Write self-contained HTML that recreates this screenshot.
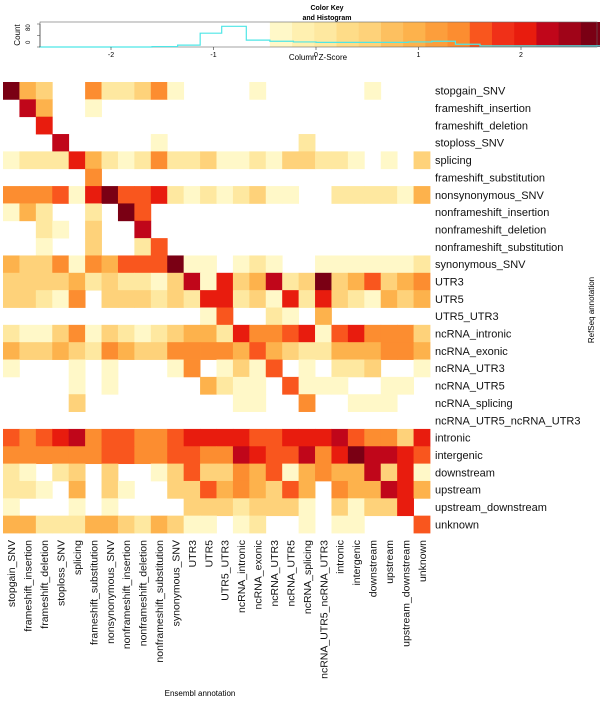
<!DOCTYPE html>
<html><head><meta charset="utf-8"><style>
body{margin:0;background:#fff;width:600px;height:703px;overflow:hidden}
svg{display:block;font-family:"Liberation Sans",Arial,sans-serif}
</style></head><body>
<svg id="c" width="600" height="703" viewBox="0 0 600 703" xmlns="http://www.w3.org/2000/svg"></svg>
<script>
const rowLabels=["stopgain_SNV","frameshift_insertion","frameshift_deletion","stoploss_SNV","splicing","frameshift_substitution","nonsynonymous_SNV","nonframeshift_insertion","nonframeshift_deletion","nonframeshift_substitution","synonymous_SNV","UTR3","UTR5","UTR5_UTR3","ncRNA_intronic","ncRNA_exonic","ncRNA_UTR3","ncRNA_UTR5","ncRNA_splicing","ncRNA_UTR5_ncRNA_UTR3","intronic","intergenic","downstream","upstream","upstream_downstream","unknown"];
const colLabels=rowLabels.slice();
const levels=[
[9,4,3,0,0,5,2,2,3,5,1,0,0,0,0,1,0,0,0,0,0,0,1,0,0,0],
[0,8,4,0,0,1,0,0,0,0,0,0,0,0,0,0,0,0,0,0,0,0,0,0,0,0],
[0,0,7,0,0,0,0,0,0,0,0,0,0,0,0,0,0,0,0,0,0,0,0,0,0,0],
[0,0,0,8,0,0,0,0,0,1,0,0,0,0,0,0,0,0,2,0,0,0,0,0,0,0],
[1,2,2,2,7,4,2,1,2,5,2,2,3,1,1,2,1,3,3,2,2,1,0,1,0,3],
[0,0,0,0,0,5,0,0,0,0,0,0,0,0,0,0,0,0,0,0,0,0,0,0,0,0],
[5,5,5,6,1,7,9,6,6,7,2,1,2,1,2,3,1,1,0,0,2,2,2,2,1,4],
[1,4,2,0,0,2,0,9,6,0,0,0,0,0,0,0,0,0,0,0,0,0,0,0,0,0],
[0,0,2,1,0,3,0,0,8,0,0,0,0,0,0,0,0,0,0,0,0,0,0,0,0,0],
[0,0,1,0,0,3,0,0,2,6,0,0,0,0,0,0,0,0,0,0,0,0,0,0,0,0],
[4,3,3,5,1,5,4,6,6,6,9,1,1,0,1,2,1,0,0,1,1,1,1,1,1,2],
[3,3,3,3,4,2,3,2,2,1,3,8,1,7,3,4,8,2,3,9,3,4,6,3,4,5],
[3,3,2,1,5,0,3,3,3,2,3,2,7,7,2,3,1,7,2,7,3,2,1,4,3,4],
[0,0,0,0,0,0,0,0,0,0,0,0,1,6,0,0,2,1,0,4,0,0,0,0,0,0],
[2,1,1,3,5,1,3,2,1,2,3,4,4,2,7,5,5,6,7,1,6,7,5,5,5,3],
[4,3,3,4,3,2,5,4,3,3,5,5,5,5,4,6,4,3,2,2,4,4,4,5,5,4],
[1,0,0,0,1,0,1,0,0,0,1,5,0,1,3,1,6,0,1,0,2,2,3,0,0,1],
[0,0,0,0,1,0,1,0,0,0,0,0,4,2,1,1,0,6,1,1,1,0,0,1,1,0],
[0,0,0,0,3,0,0,0,0,0,0,0,0,0,1,1,0,0,5,0,0,1,1,1,0,0],
[0,0,0,0,0,0,0,0,0,0,0,0,0,0,0,0,0,0,0,0,0,0,0,0,0,0],
[6,5,6,7,8,5,6,6,5,5,6,7,7,7,7,6,6,7,7,7,8,6,5,5,3,7],
[5,5,5,5,5,5,6,6,5,5,6,6,5,5,8,7,6,6,8,5,7,9,8,8,7,6],
[2,1,0,2,3,0,3,0,0,1,3,6,3,3,5,4,6,1,4,5,4,4,8,3,7,1],
[2,2,1,0,4,0,3,1,0,0,3,3,6,4,5,4,3,6,4,0,5,4,4,8,7,4],
[1,0,0,0,1,0,1,0,0,0,0,3,3,3,2,3,3,3,1,0,3,1,3,3,7,0],
[4,4,2,2,2,4,4,3,2,4,3,1,1,0,1,2,0,0,1,0,1,1,0,0,0,6]];
const keyTicks=[-2,-1,0,1,2];
const histX=[-2.7,-1.6,-1.35,-1.13,-0.92,-0.68,-0.45,-0.22,0,0.23,0.45,0.68,0.9,1.13,1.36,1.6,2.8];
const histY=[0,2,8,60,90,30,25,22,20,20,20,20,22,25,12,5,5];
const pal=["#FFFFFF","#FFF8C8","#FEE8A0","#FED27A","#FDB24C","#FC8D30","#F9561E","#E81C0E","#C0061A","#7A0014"];
const keyCols=["#FFF8C8","#FFF0B0","#FEE8A0","#FEDC88","#FED27A","#FDC060","#FDB24C","#FC9E3C","#FC8D30","#F9561E","#F03018","#E81C0E","#C0061A","#A00418","#7A0014"];
const NS="http://www.w3.org/2000/svg",svg=document.getElementById('c');
function mk(t,a,p){const e=document.createElementNS(NS,t);for(const k in a)e.setAttribute(k,a[k]);(p||svg).appendChild(e);return e;}
const gx0=3,gy0=82,cw=(430-3)/26,rh=(533-82)/26;
const xs=i=>gx0+i*cw, ys=j=>gy0+j*rh;
const g=mk('g',{});


levels.forEach((row,j)=>row.forEach((v,i)=>{if(!v)return;
 const r=mk('rect',{x:xs(i),y:ys(j),width:cw+0.4,height:rh+0.4,fill:pal[v]},g);
 
 }));
rowLabels.forEach((l,j)=>{const t=mk('text',{x:435,y:ys(j)+rh/2+4,'font-size':11,fill:'#111'});t.textContent=l;
 
 });
colLabels.forEach((l,i)=>{const x=xs(i)+cw/2+4,y=540;const t=mk('text',{x:x,y:y,'font-size':10.5,fill:'#111','text-anchor':'end',transform:`rotate(-90 ${x} ${y})`});t.textContent=l;
 
 });
let t=mk('text',{x:200,y:696,'font-size':8,'text-anchor':'middle'});t.textContent='Ensembl annotation';


t=mk('text',{x:594,y:310,'font-size':8,'text-anchor':'middle',transform:'rotate(-90 594 310)'});t.textContent='RefSeq annotation';


const kx=z=>316+z*102.5, ky0=22, ky1=47;
const kg=mk('g',{});


keyCols.forEach((c,k)=>{mk('rect',{x:kx(-0.45+k*0.2167),y:ky0,width:0.2167*102.5+0.5,height:ky1-ky0,fill:c},kg);});
mk('rect',{x:40,y:ky0,width:557,height:ky1-ky0,fill:'none',stroke:'#666','stroke-width':0.6},kg);
const hy=v=>ky1-v/100*(ky1-ky0-2);
let d='M'+kx(histX[0])+' '+hy(histY[0]);
histY.forEach((v,k)=>{if(k<histX.length-1){d+=` L${kx(histX[k])} ${hy(v)} L${kx(histX[k+1])} ${hy(v)}`;}});
const hp=mk('path',{d:d,fill:'none',stroke:'#4ee6e6','stroke-width':1.2},kg);


keyTicks.forEach(v=>{mk('line',{x1:kx(v),x2:kx(v),y1:ky1,y2:ky1+3,stroke:'#333','stroke-width':0.6},kg);
 const tt=mk('text',{x:kx(v),y:ky1+10,'font-size':7,'text-anchor':'middle'},kg);tt.textContent=v;
 
 });
mk('line',{x1:40,x2:40,y1:ky1,y2:ky0+2,stroke:'#333','stroke-width':0.6},kg);
[0,50,100].forEach(v=>{mk('line',{x1:37,x2:40,y1:hy(v),y2:hy(v),stroke:'#333','stroke-width':0.5},kg);});
t=mk('text',{x:30,y:44,'font-size':6,transform:'rotate(-90 30 44)'},kg);t.textContent='0';
t=mk('text',{x:30,y:31,'font-size':6,transform:'rotate(-90 30 31)'},kg);t.textContent='80';
t=mk('text',{x:20,y:35,'font-size':8,'text-anchor':'middle',transform:'rotate(-90 20 35)'},kg);t.textContent='Count';
t=mk('text',{x:318,y:60,'font-size':8,'text-anchor':'middle'},kg);t.textContent='Column Z-Score';
t=mk('text',{x:327,y:10,'font-size':7,'font-weight':'bold','text-anchor':'middle'},kg);t.textContent='Color Key';
t=mk('text',{x:327,y:20,'font-size':7,'font-weight':'bold','text-anchor':'middle'},kg);t.textContent='and Histogram';
</script>
</body></html>
